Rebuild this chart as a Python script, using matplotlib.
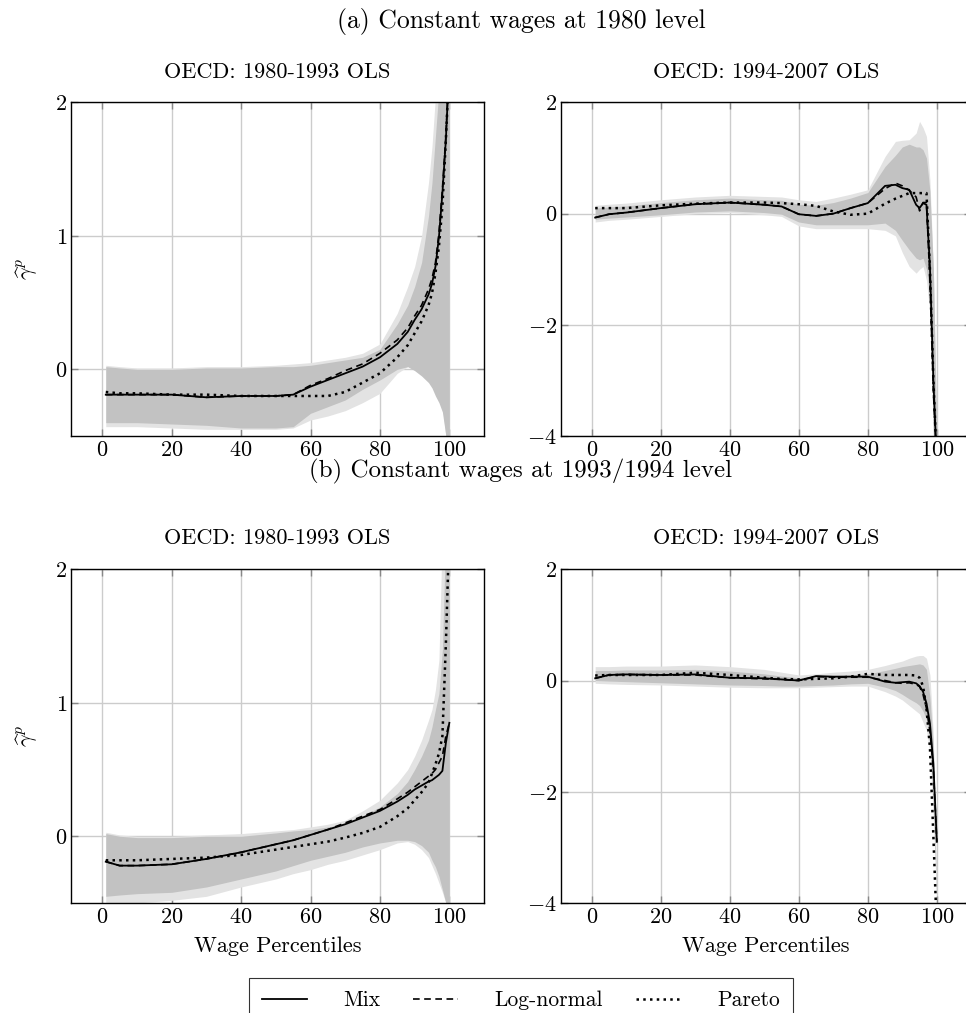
import numpy as np
import matplotlib
matplotlib.use("Agg")
import matplotlib.pyplot as plt

plt.rcParams['font.family'] = ['cmr10', 'DejaVu Serif']
plt.rcParams['mathtext.fontset'] = 'cm'
plt.rcParams['axes.formatter.use_mathtext'] = True

# percentile grid shared by all panels
pct = [1, 5, 10, 20, 30, 40, 50, 55, 60, 65, 70, 75, 80, 85, 88, 90, 92, 94, 95, 96, 97, 98, 99, 100]

# (a) 1980-1993
a1_mix  = [-0.19, -0.19, -0.19, -0.19, -0.21, -0.20, -0.20, -0.19, -0.13, -0.08, -0.03, 0.02, 0.09, 0.19, 0.28, 0.37, 0.45, 0.56, 0.64, 0.77, 0.99, 1.32, 1.72, 2.30]
a1_logn = [-0.19, -0.19, -0.19, -0.19, -0.21, -0.20, -0.20, -0.19, -0.12, -0.07, -0.01, 0.04, 0.12, 0.22, 0.31, 0.40, 0.48, 0.60, 0.68, 0.80, 1.02, 1.35, 1.75, 2.30]
a1_par  = [-0.17, -0.18, -0.18, -0.19, -0.19, -0.20, -0.20, -0.20, -0.20, -0.20, -0.17, -0.10, -0.03, 0.09, 0.18, 0.27, 0.36, 0.48, 0.57, 0.72, 0.92, 1.22, 1.72, 2.30]
a1_lo_out = [-0.43, -0.43, -0.43, -0.44, -0.45, -0.45, -0.45, -0.44, -0.38, -0.35, -0.31, -0.25, -0.18, -0.03, 0.02, 0.00, -0.03, -0.07, -0.10, -0.14, -0.20, -0.28, -0.50, -0.50]
a1_lo_in  = [-0.40, -0.40, -0.40, -0.41, -0.42, -0.44, -0.44, -0.43, -0.33, -0.28, -0.23, -0.15, -0.08, 0.00, 0.02, -0.01, -0.05, -0.10, -0.14, -0.20, -0.25, -0.32, -0.50, -0.50]
a1_hi_in  = [0.02, 0.01, 0.00, 0.00, 0.01, 0.01, 0.02, 0.02, 0.03, 0.05, 0.07, 0.09, 0.15, 0.34, 0.48, 0.62, 0.80, 1.15, 1.40, 1.75, 2.10, 2.30, 2.30, 2.30]
a1_hi_out = [0.03, 0.02, 0.01, 0.01, 0.02, 0.02, 0.03, 0.04, 0.05, 0.07, 0.09, 0.12, 0.19, 0.42, 0.62, 0.77, 1.00, 1.40, 1.67, 2.05, 2.30, 2.30, 2.30, 2.30]

# (a) 1994-2007
a2_mix  = [-0.07, -0.01, 0.02, 0.10, 0.17, 0.20, 0.16, 0.13, -0.01, -0.04, 0.00, 0.10, 0.19, 0.50, 0.52, 0.46, 0.43, 0.16, 0.10, 0.19, 0.16, -0.95, -3.00, -4.50]
a2_logn = [-0.07, -0.01, 0.02, 0.10, 0.17, 0.20, 0.16, 0.13, -0.01, -0.04, 0.00, 0.10, 0.19, 0.45, 0.55, 0.50, 0.42, 0.30, 0.05, 0.20, 0.20, -1.20, -3.20, -4.50]
a2_par  = [0.10, 0.10, 0.10, 0.15, 0.18, 0.20, 0.20, 0.19, 0.17, 0.14, 0.04, -0.02, 0.00, 0.18, 0.27, 0.32, 0.37, 0.37, 0.37, 0.37, 0.37, -1.00, -3.00, -4.50]
a2_lo_out = [-0.15, -0.12, -0.10, -0.05, 0.00, 0.02, -0.02, -0.05, -0.22, -0.27, -0.27, -0.27, -0.27, -0.30, -0.40, -0.70, -0.95, -1.07, -1.00, -0.95, -1.20, -1.80, -4.00, -4.00]
a2_lo_in  = [-0.10, -0.08, -0.06, -0.02, 0.03, 0.05, 0.02, -0.01, -0.15, -0.20, -0.20, -0.20, -0.20, -0.17, -0.30, -0.48, -0.65, -0.80, -0.83, -0.80, -1.00, -1.50, -4.00, -4.00]
a2_hi_in  = [0.10, 0.12, 0.14, 0.20, 0.25, 0.28, 0.25, 0.24, 0.17, 0.15, 0.20, 0.28, 0.38, 0.85, 1.05, 1.20, 1.25, 1.20, 1.20, 1.15, 1.00, 0.40, -1.00, -4.00]
a2_hi_out = [0.15, 0.17, 0.19, 0.25, 0.30, 0.33, 0.31, 0.30, 0.25, 0.22, 0.28, 0.35, 0.43, 1.03, 1.30, 1.32, 1.33, 1.45, 1.66, 1.55, 1.39, 0.60, -1.00, -4.00]

# (b) 1980-1993
b1_mix  = [-0.19, -0.22, -0.22, -0.21, -0.17, -0.12, -0.06, -0.03, 0.01, 0.05, 0.09, 0.14, 0.19, 0.26, 0.31, 0.35, 0.38, 0.41, 0.42, 0.44, 0.46, 0.49, 0.70, 0.85]
b1_logn = [-0.19, -0.22, -0.22, -0.21, -0.17, -0.12, -0.06, -0.03, 0.01, 0.05, 0.10, 0.15, 0.20, 0.28, 0.33, 0.37, 0.41, 0.45, 0.47, 0.50, 0.55, 0.60, 0.75, 0.85]
b1_par  = [-0.18, -0.18, -0.18, -0.17, -0.16, -0.14, -0.10, -0.08, -0.06, -0.04, -0.01, 0.025, 0.07, 0.15, 0.21, 0.27, 0.33, 0.40, 0.47, 0.54, 0.62, 0.75, 1.44, 2.30]
b1_lo_out = [-0.50, -0.50, -0.50, -0.48, -0.45, -0.38, -0.32, -0.28, -0.25, -0.21, -0.18, -0.14, -0.10, -0.05, -0.04, -0.06, -0.10, -0.16, -0.22, -0.28, -0.35, -0.42, -0.50, -0.50]
b1_lo_in  = [-0.45, -0.44, -0.43, -0.42, -0.38, -0.32, -0.26, -0.22, -0.18, -0.15, -0.12, -0.08, -0.05, -0.03, -0.03, -0.04, -0.07, -0.12, -0.18, -0.23, -0.30, -0.40, -0.50, -0.50]
b1_hi_in  = [0.02, 0.00, -0.01, -0.01, 0.00, 0.00, 0.025, 0.04, 0.05, 0.07, 0.09, 0.15, 0.22, 0.32, 0.41, 0.50, 0.60, 0.72, 0.82, 0.95, 1.07, 1.40, 2.30, 2.30]
b1_hi_out = [0.03, 0.01, 0.00, 0.00, 0.01, 0.02, 0.04, 0.05, 0.07, 0.09, 0.12, 0.19, 0.27, 0.40, 0.50, 0.60, 0.72, 0.87, 0.95, 1.10, 1.32, 2.30, 2.30, 2.30]

# (b) 1994-2007
b2_mix  = [0.04, 0.10, 0.11, 0.10, 0.11, 0.05, 0.04, 0.02, 0.00, 0.08, 0.07, 0.07, 0.07, -0.02, -0.04, -0.03, -0.02, -0.05, -0.10, -0.20, -0.41, -0.77, -1.50, -2.90]
b2_logn = [0.04, 0.10, 0.11, 0.10, 0.10, 0.05, 0.03, 0.02, 0.00, 0.07, 0.06, 0.06, 0.06, 0.00, -0.04, -0.05, -0.04, -0.07, -0.11, -0.25, -0.50, -0.90, -1.60, -2.90]
b2_par  = [0.09, 0.10, 0.10, 0.10, 0.14, 0.10, 0.05, 0.03, 0.02, 0.03, 0.04, 0.07, 0.12, 0.10, 0.10, 0.10, 0.10, 0.09, 0.05, -0.10, -0.50, -1.20, -2.80, -4.50]
b2_lo_out = [-0.05, -0.06, -0.07, -0.08, -0.10, -0.12, -0.13, -0.13, -0.13, -0.12, -0.11, -0.10, -0.10, -0.20, -0.28, -0.35, -0.45, -0.55, -0.60, -0.75, -0.90, -1.30, -2.50, -4.00]
b2_lo_in  = [0.00, -0.01, -0.02, -0.04, -0.06, -0.08, -0.09, -0.10, -0.10, -0.09, -0.08, -0.06, -0.05, -0.12, -0.18, -0.25, -0.33, -0.40, -0.45, -0.55, -0.70, -1.10, -2.20, -4.00]
b2_hi_in  = [0.18, 0.18, 0.19, 0.19, 0.20, 0.17, 0.12, 0.08, 0.05, 0.07, 0.09, 0.10, 0.12, 0.18, 0.22, 0.25, 0.27, 0.29, 0.30, 0.28, 0.20, -0.30, -1.20, -4.00]
b2_hi_out = [0.25, 0.25, 0.26, 0.26, 0.28, 0.25, 0.20, 0.15, 0.10, 0.12, 0.15, 0.17, 0.20, 0.27, 0.32, 0.35, 0.40, 0.44, 0.45, 0.45, 0.40, 0.10, -1.00, -4.00]

panel_titles = ["OECD: 1980-1993 OLS", "OECD: 1994-2007 OLS"]
row_titles = ["(a) Constant wages at 1980 level", "(b) Constant wages at 1993/1994 level"]
legend_labels = ["Mix", "Log-normal", "Pareto"]

W, H = 966, 1013
fig = plt.figure(figsize=(W / 100, H / 100), dpi=100)

panels = [
    (a1_mix, a1_logn, a1_par, a1_lo_out, a1_hi_out, a1_lo_in, a1_hi_in),
    (a2_mix, a2_logn, a2_par, a2_lo_out, a2_hi_out, a2_lo_in, a2_hi_in),
    (b1_mix, b1_logn, b1_par, b1_lo_out, b1_hi_out, b1_lo_in, b1_hi_in),
    (b2_mix, b2_logn, b2_par, b2_lo_out, b2_hi_out, b2_lo_in, b2_hi_in),
]

# pixel boxes (left, top, right, bottom)
boxes = [(71.4, 102.5, 483.7, 436), (561, 102.5, 971, 436),
         (71.4, 569.3, 483.7, 903), (561, 569.3, 971, 903)]

fs = 16
handles = None
for k, (mix, logn, par, lo_o, hi_o, lo_i, hi_i) in enumerate(panels):
    l, t, r, b = boxes[k]
    ax = fig.add_axes([l / W, 1 - b / H, (r - l) / W, (b - t) / H])
    ax.fill_between(pct, lo_o, hi_o, color='#e3e3e3', lw=0, zorder=1)
    ax.fill_between(pct, lo_i, hi_i, color='#c2c2c2', lw=0, zorder=1.1)
    h1, = ax.plot(pct, mix, color='black', lw=1.3, zorder=3)
    h2, = ax.plot(pct, logn, color='black', lw=1.2, ls=(0, (4, 2.7)), zorder=3)
    h3, = ax.plot(pct, par, color='black', lw=1.8, ls=(0, (1, 1.7)), zorder=3)
    handles = [h1, h2, h3]

    ax.set_xlim(-8.9, 109.9)
    if k % 2 == 0:
        ax.set_ylim(-0.5, 2)
        ax.set_yticks([0, 1, 2])
        ax.set_ylabel(r'$\widehat{\gamma}^p$', fontsize=fs, labelpad=11)
    else:
        ax.set_ylim(-4, 2)
        ax.set_yticks([-4, -2, 0, 2])
    ax.set_xticks([0, 20, 40, 60, 80, 100])
    ax.grid(True, color='#cccccc', lw=1.0, zorder=0)
    ax.set_axisbelow(True)
    ax.tick_params(direction='in', length=5, width=1, color='#888888',
                   top=True, right=True, labelsize=16, pad=3)
    for s in ax.spines.values():
        s.set_linewidth(1.0)
    ax.set_title(panel_titles[k % 2], fontsize=fs, pad=18)
    if k >= 2:
        ax.set_xlabel("Wage Percentiles", fontsize=fs, labelpad=7)

fig.text(521 / W, 1 - 28 / H, row_titles[0], ha='center', va='baseline', fontsize=18.5)
fig.text(521 / W, 1 - 477 / H, row_titles[1], ha='center', va='baseline', fontsize=18)

leg = fig.legend(handles, legend_labels, loc='upper center', ncol=3,
                 bbox_to_anchor=(521 / W, 1 - 978 / H), fontsize=fs - 0.5,
                 frameon=True, fancybox=False, edgecolor='black',
                 handlelength=2.1, handletextpad=1.7, columnspacing=1.5,
                 borderpad=0.6, borderaxespad=0)
leg.get_frame().set_linewidth(0.8)

fig.savefig("out.png", dpi=100)
